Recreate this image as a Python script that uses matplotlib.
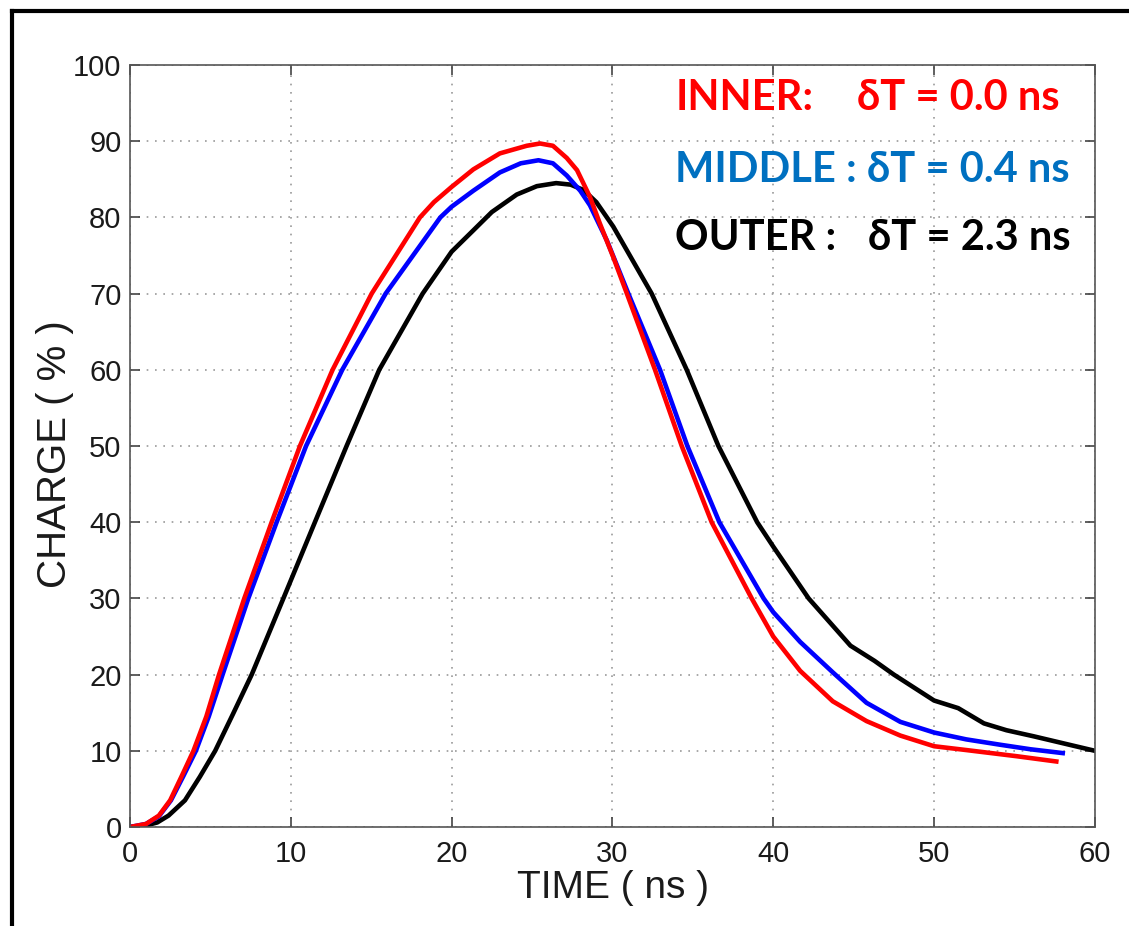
import numpy as np
import matplotlib
matplotlib.use('Agg')
import matplotlib.pyplot as plt
from matplotlib.lines import Line2D

# Charge curves (time in ns, charge in %)
t_inner = [0, 1, 1.8, 2.5, 3.2, 3.95, 4.75, 5.54, 7.11, 8.81, 10.57, 12.6, 15.03, 18.03, 18.9, 20, 21.35, 23,
           24.67, 25.5, 26.3, 27.16, 27.8, 28.6, 29.2, 30.05, 30.9, 32.65, 34.31, 36.17, 38.66, 40, 41.67,
           43.7, 45.8, 47.9, 50, 52, 55.1, 57.6]
q_inner = [0, 0.4, 1.5, 3.5, 6.6, 10, 14.5, 20, 30, 40, 50, 60, 70, 80, 82.0, 84.0, 86.3, 88.4,
           89.4, 89.7, 89.4, 87.8, 86.2, 82.7, 79.3, 74.8, 70, 60, 50, 40, 30, 25, 20.5,
           16.5, 13.9, 12.0, 10.6, 10.1, 9.3, 8.6]

t_middle = [0, 1, 1.8, 2.55, 3.3, 4.1, 4.9, 5.76, 7.36, 9.12, 10.95, 13.2, 15.9, 19.3, 20, 21.35, 23, 24.3,
            25.4, 26.3, 27.16, 28, 28.6, 29.65, 30.99, 32.96, 34.66, 36.65, 39.4, 40, 41.67, 43.7,
            45.8, 47.9, 50, 52, 54.1, 56, 58]
q_middle = [0, 0.4, 1.4, 3.5, 6.6, 10, 14.5, 20, 30, 40, 50, 60, 70, 80, 81.4, 83.5, 85.9, 87.1,
            87.5, 87.1, 85.5, 83.5, 81.6, 77, 70, 60, 50, 40, 30, 28.2, 24.3, 20.3,
            16.3, 13.8, 12.4, 11.5, 10.8, 10.2, 9.7]

t_outer = [0, 1, 1.7, 2.4, 3.42, 4.35, 5.3, 6.4, 7.57, 9.54, 11.5, 13.47, 15.5, 18.2, 20, 21.35, 22.5,
           24.05, 25.3, 26.5, 27.4, 28.2, 29, 30.05, 32.44, 34.62, 36.59, 39.0, 40, 42.2, 44.8,
           46.3, 47.5, 50, 51.5, 53.1, 54.5, 56.2, 58, 60]
q_outer = [0, 0.2, 0.6, 1.5, 3.5, 6.6, 10, 14.8, 20, 30, 40, 50, 60, 70, 75.5, 78.3, 80.7,
           83.0, 84.1, 84.5, 84.3, 83.6, 82, 78.8, 70, 60, 50, 40, 36.8, 30, 23.8,
           21.8, 20.0, 16.6, 15.6, 13.6, 12.7, 11.9, 11, 10]

labels = ['INNER:', 'MIDDLE :', 'OUTER :']
deltas = ['\u03b4T = 0.0 ns', '\u03b4T = 0.4 ns', '\u03b4T = 2.3 ns']
text_colors = ['#ff0000', '#0070c0', '#000000']

fig = plt.figure(figsize=(11.29, 9.26), dpi=100)
ax = fig.add_axes([0.1151, 0.1069, 0.8547, 0.8229])

ax.plot(t_outer, q_outer, color='black', lw=3.3, solid_joinstyle='round')
ax.plot(t_middle, q_middle, color='#0000ff', lw=3.3, solid_joinstyle='round')
ax.plot(t_inner, q_inner, color='#ff0000', lw=3.3, solid_joinstyle='round')

ax.set_xlim(0, 60)
ax.set_ylim(0, 100)
ax.set_xticks(range(0, 61, 10))
ax.set_yticks(range(0, 101, 10))
ax.tick_params(direction='in', length=7, width=1.2, color='#444444', labelsize=21,
               top=True, right=True)
ax.tick_params(axis='x', pad=9)
ax.tick_params(axis='y', pad=6)
for lab in ax.get_xticklabels() + ax.get_yticklabels():
    lab.set_family('Liberation Sans')
    lab.set_color('#1a1a1a')
for sp in ax.spines.values():
    sp.set_color('#555555')
    sp.set_linewidth(1.2)
ax.grid(True, linestyle=(0, (1, 4)), color='#999999', lw=1.2)

ax.set_xlabel('TIME ( ns )', fontsize=28, family='Liberation Sans', color='#1a1a1a')
ax.set_ylabel('CHARGE ( % )', fontsize=29, family='Liberation Sans', color='#1a1a1a')
ax.xaxis.set_label_coords(0.5005, -0.056)
ax.yaxis.set_label_coords(-0.058, 0.49)

# annotation block in the upper right
ys = [0.8812, 0.8035, 0.7300]
x_delta = [0.759, 0.768, 0.769]
for lab, d, c, y, xd in zip(labels, deltas, text_colors, ys, x_delta):
    fig.text(0.598, y, lab, color=c, fontsize=30, fontweight='bold', family='Lato', va='baseline')
    fig.text(xd, y, d, color=c, fontsize=30, fontweight='bold', family='Lato', va='baseline')

# black frame at left and top edge of the picture
fig.add_artist(Line2D([0.0107, 0.0107], [0, 0.988], transform=fig.transFigure, color='black', lw=3))
fig.add_artist(Line2D([0.0107, 1.0], [0.988, 0.988], transform=fig.transFigure, color='black', lw=3))

fig.savefig('out.png', dpi=100)
